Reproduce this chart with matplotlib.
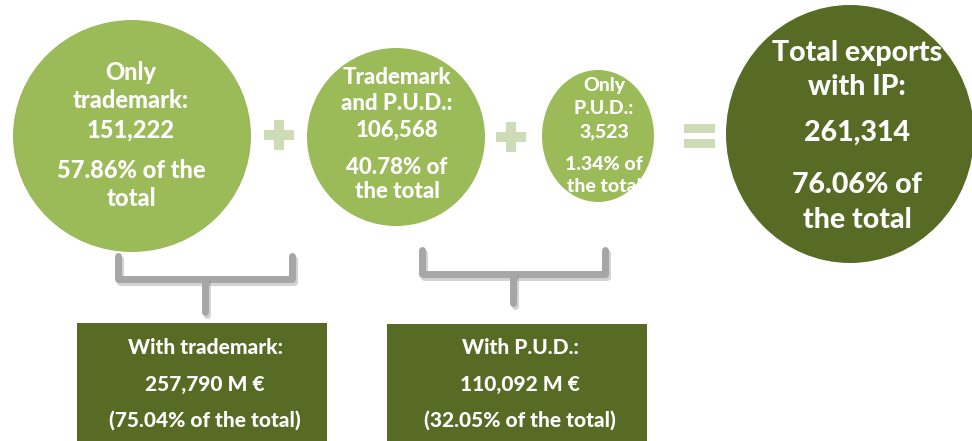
import matplotlib.pyplot as plt
from matplotlib.patches import Ellipse, Rectangle
import matplotlib.patheffects as pe

# data
circle_titles = [['Only', 'trademark:'], ['Trademark', 'and P.U.D.:'], ['Only', 'P.U.D.:'], ['Total exports', 'with IP:']]
circle_counts = ['151,222', '106,568', '3,523', '261,314']
circle_shares = [['57.86% of the', 'total'], ['40.78% of', 'the total'], ['1.34% of', 'the total'], ['76.06% of', 'the total']]
box_titles = ['With trademark:', 'With P.U.D.:']
box_values = ['257,790 M \u20ac', '110,092 M \u20ac']
box_shares = ['(75.04% of the total)', '(32.05% of the total)']

light_green = '#9bbb59'
dark_green = '#586b25'
sign_color = '#cddbb6'
bracket_gray = '#a6a6a6'

plt.rcParams['font.family'] = ['Lato', 'DejaVu Sans']
W = 'black'

fig = plt.figure(figsize=(9.72, 4.41), dpi=100)
ax = fig.add_axes([0, 0, 1, 1])
ax.set_xlim(0, 972)
ax.set_ylim(441, 0)
ax.axis('off')

# circles: center x, center y, width, height
circles = [(132, 136, 238, 232), (396, 137, 178, 178), (598, 136, 112, 132), (850, 134, 248, 258)]
colors = [light_green, light_green, light_green, dark_green]
for (cx, cy, w, h), c in zip(circles, colors):
    ax.add_patch(Ellipse((cx, cy), w, h, color=c, lw=0))

# text layout inside circles: x, y of each of the five lines, font size
text_layout = [
    (131, [72, 100, 130, 170, 199], 17),
    (397, [77, 103, 130, 167, 192], 16),
    (604, [85, 109, 132, 165, 186], 14),
    (857, [53, 87, 133, 185, 220], 20.5),
]
for i, (tx, ys, fs) in enumerate(text_layout):
    lines = circle_titles[i] + [circle_counts[i]] + circle_shares[i]
    for line, y in zip(lines, ys):
        ax.text(tx, y, line, ha='center', va='center', color='white',
                fontsize=fs, fontweight=W)

# plus signs
for px, py in [(279, 135), (511, 137)]:
    ax.add_patch(Rectangle((px - 15, py - 5), 30, 10, color=sign_color, lw=0))
    ax.add_patch(Rectangle((px - 5, py - 15), 10, 30, color=sign_color, lw=0))
# equals sign
ax.add_patch(Rectangle((684, 124), 31, 9, color=sign_color, lw=0))
ax.add_patch(Rectangle((684, 139), 31, 9, color=sign_color, lw=0))

# brackets: left x, right x, top y, horizontal y, stem x, bottom y
brackets = [(118, 292, 256, 279, 205, 312), (422, 605, 250, 274, 513, 303)]
shadow = [pe.SimpleLineShadow(offset=(1.5, -2.5), shadow_color='#7f7f7f', alpha=0.35), pe.Normal()]
for x0, x1, yt, yh, xm, yb in brackets:
    ax.plot([x0, x0, x1, x1], [yt, yh, yh, yt], color=bracket_gray, lw=5,
            solid_joinstyle='round', solid_capstyle='round', path_effects=shadow)
    ax.plot([xm, xm], [yh, yb], color=bracket_gray, lw=5,
            solid_capstyle='round', path_effects=shadow)

# boxes: left, top, right
boxes = [(77, 323, 327), (387, 324, 647)]
for i, (bx0, by0, bx1) in enumerate(boxes):
    ax.add_patch(Rectangle((bx0, by0), bx1 - bx0, 441 - by0, color=dark_green, lw=0))
    cx = (bx0 + bx1) / 2 + 3
    ax.text(cx, 348, box_titles[i], ha='center', va='center', color='white', fontsize=15, fontweight=W)
    ax.text(cx, 385, box_values[i], ha='center', va='center', color='white', fontsize=15, fontweight=W)
    ax.text(cx, 420, box_shares[i], ha='center', va='center', color='white', fontsize=15, fontweight=W)

fig.savefig('out.png', dpi=100)
